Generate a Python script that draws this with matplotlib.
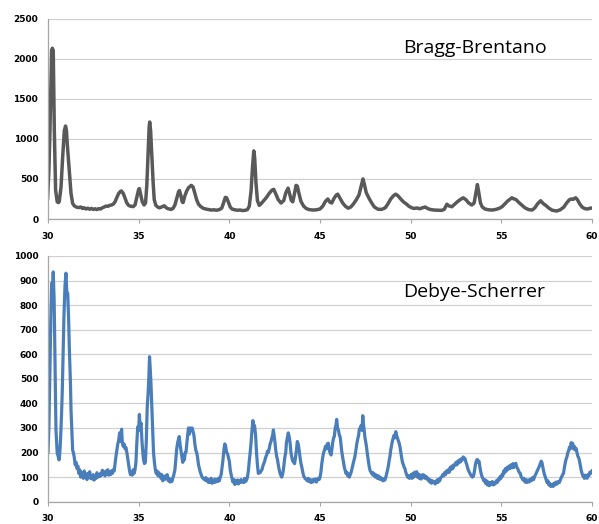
import matplotlib
matplotlib.use("Agg")
import matplotlib.pyplot as plt

# ---------------- data: Bragg-Brentano (top) ----------------
bb_two_theta = [29.98, 30.05, 30.11, 30.16, 30.2, 30.24, 30.29, 30.35, 30.42, 30.51, 30.57, 30.62, 30.72, 30.81,
    30.9, 30.97, 31.02, 31.06, 31.17, 31.27, 31.36, 31.45, 31.55, 31.7, 31.8, 31.9, 32.0, 32.1, 32.2,
    32.3, 32.4, 32.5, 32.6, 32.7, 32.8, 32.9, 33.0, 33.1, 33.2, 33.3, 33.4, 33.5, 33.6, 33.7, 33.8, 33.9, 34.0,
    34.05, 34.15, 34.25, 34.35, 34.45, 34.55, 34.7, 34.8, 34.9, 35.0, 35.04, 35.1, 35.2, 35.3, 35.38, 35.45,
    35.52, 35.58, 35.61, 35.66, 35.72, 35.8, 35.86, 35.95, 36.05, 36.15, 36.25, 36.35, 36.42, 36.5, 36.6, 36.7,
    36.8, 36.9, 37.0, 37.1, 37.2, 37.25, 37.32, 37.4, 37.45, 37.55, 37.65, 37.75, 37.9, 38.0, 38.1, 38.2, 38.3,
    38.4, 38.55, 38.7, 38.85, 39.0, 39.15, 39.3, 39.45, 39.58, 39.68, 39.78, 39.85, 39.95, 40.05, 40.15, 40.3,
    40.45, 40.6, 40.75, 40.9, 41.0, 41.1, 41.2, 41.28, 41.35, 41.4, 41.47, 41.55, 41.65, 41.75, 41.9, 42.05,
    42.2, 42.35, 42.45, 42.55, 42.7, 42.85, 43.0, 43.12, 43.24, 43.32, 43.42, 43.5, 43.58, 43.68, 43.75, 43.85,
    43.95, 44.1, 44.25, 44.4, 44.6, 44.8, 45.0, 45.15, 45.3, 45.43, 45.55, 45.65, 45.78, 45.9, 45.98, 46.1,
    46.25, 46.4, 46.55, 46.7, 46.85, 47.0, 47.15, 47.28, 47.37, 47.45, 47.55, 47.7, 47.85, 48.0, 48.2, 48.4,
    48.6, 48.75, 48.9, 49.05, 49.18, 49.3, 49.45, 49.6, 49.75, 49.9, 50.06, 50.2, 50.35, 50.5, 50.65, 50.8,
    50.95, 51.1, 51.3, 51.5, 51.7, 51.85, 52.0, 52.1, 52.27, 52.45, 52.6, 52.75, 52.9, 53.05, 53.2, 53.37,
    53.5, 53.6, 53.68, 53.75, 53.85, 53.95, 54.1, 54.3, 54.5, 54.7, 54.9, 55.05, 55.2, 55.35, 55.5, 55.58,
    55.7, 55.8, 55.95, 56.1, 56.3, 56.5, 56.7, 56.85, 57.0, 57.17, 57.3, 57.45, 57.6, 57.8, 58.05, 58.25,
    58.45, 58.6, 58.75, 58.85, 58.95, 59.1, 59.2, 59.32, 59.45, 59.6, 59.75, 59.9, 60.0]
bb_intensity = [260, 600, 1110, 1700, 2100, 2130, 2100, 1100, 360, 215, 205, 215, 400, 775,
    1100, 1160, 1100, 945, 610, 320, 195, 165, 150, 142, 150, 132, 140, 125, 135,
    122, 132, 120, 128, 118, 130, 125, 140, 150, 162, 158, 170, 175, 185, 215, 270, 320, 345,
    350, 320, 260, 200, 170, 160, 155, 175, 270, 370, 380, 320, 215, 175, 200, 420,
    800, 1150, 1210, 1100, 820, 450, 240, 170, 150, 140, 148, 160, 165, 145, 130, 125,
    120, 135, 175, 260, 340, 355, 300, 215, 205, 290, 350, 390, 420, 400, 320, 240, 185,
    160, 135, 125, 118, 112, 115, 110, 118, 135, 200, 270, 265, 210, 150, 125, 115,
    110, 112, 105, 110, 118, 160, 350, 650, 850, 760, 450, 230, 170, 190, 230, 270,
    320, 360, 370, 320, 240, 200, 230, 330, 385, 320, 230, 215, 300, 420, 410, 310,
    220, 160, 130, 118, 112, 115, 125, 160, 220, 250, 210, 200, 260, 300, 310, 260,
    200, 160, 135, 150, 190, 240, 300, 420, 500, 430, 330, 260, 200, 150, 122, 120,
    140, 190, 250, 290, 310, 290, 250, 215, 190, 160, 140, 132, 138, 128, 140, 150,
    130, 118, 112, 110, 108, 120, 185, 165, 153, 190, 220, 245, 265, 240, 200, 175,
    200, 330, 430, 340, 200, 150, 125, 115, 112, 120, 135, 155, 190, 225, 250, 265,
    250, 245, 210, 180, 140, 118, 112, 140, 190, 228, 195, 170, 140, 110, 100, 115,
    150, 200, 240, 250, 245, 265, 240, 190, 150, 130, 125, 135, 137]

# ---------------- data: Debye-Scherrer (bottom) ----------------
ds_two_theta = [30.0, 30.05, 30.11, 30.16, 30.2, 30.26, 30.29, 30.34, 30.39, 30.44, 30.51, 30.56, 30.61, 30.65,
    30.7, 30.75, 30.79, 30.84, 30.88, 30.94, 30.99, 31.04, 31.09, 31.14, 31.18, 31.24, 31.27, 31.36, 31.4, 31.45,
    31.5, 31.55, 31.6, 31.65, 31.7, 31.75, 31.8, 31.85, 31.9, 31.95, 32.0, 32.05, 32.1, 32.15, 32.2, 32.25, 32.3,
    32.35, 32.4, 32.45, 32.5, 32.55, 32.6, 32.65, 32.7, 32.75, 32.8, 32.85, 32.9, 32.95, 33.0, 33.05, 33.1, 33.15,
    33.2, 33.25, 33.3, 33.35, 33.4, 33.45, 33.5, 33.55, 33.6, 33.65, 33.7, 33.75, 33.8, 33.85, 33.9, 33.95, 34.0,
    34.06, 34.1, 34.15, 34.2, 34.25, 34.3, 34.35, 34.4, 34.45, 34.5, 34.55, 34.6, 34.65, 34.7, 34.75, 34.8, 34.85,
    34.9, 34.95, 35.0, 35.04, 35.08, 35.13, 35.18, 35.23, 35.27, 35.32, 35.37, 35.42, 35.47, 35.52, 35.56, 35.6,
    35.64, 35.68, 35.72, 35.77, 35.82, 35.87, 35.92, 35.97, 36.02, 36.07, 36.12, 36.18, 36.23, 36.28, 36.33, 36.38,
    36.43, 36.48, 36.53, 36.58, 36.63, 36.68, 36.73, 36.78, 36.83, 36.88, 36.94, 37.0, 37.05, 37.1, 37.15, 37.2,
    37.24, 37.29, 37.34, 37.39, 37.43, 37.48, 37.52, 37.57, 37.61, 37.66, 37.7, 37.75, 37.8, 37.85, 37.9, 37.95,
    38.0, 38.05, 38.1, 38.15, 38.2, 38.25, 38.3, 38.35, 38.4, 38.45, 38.5, 38.55, 38.6, 38.66, 38.7, 38.75, 38.8,
    38.85, 38.9, 38.95, 39.0, 39.05, 39.1, 39.15, 39.2, 39.25, 39.3, 39.35, 39.4, 39.45, 39.5, 39.55, 39.6, 39.65,
    39.7, 39.75, 39.8, 39.85, 39.9, 39.95, 40.0, 40.05, 40.1, 40.15, 40.2, 40.25, 40.3, 40.35, 40.4, 40.45, 40.5,
    40.55, 40.6, 40.65, 40.7, 40.75, 40.8, 40.85, 40.9, 40.96, 41.0, 41.05, 41.1, 41.15, 41.2, 41.25, 41.3, 41.34,
    41.39, 41.45, 41.5, 41.55, 41.6, 41.65, 41.7, 41.75, 41.8, 41.85, 41.9, 41.95, 42.0, 42.06, 42.1, 42.15, 42.2,
    42.25, 42.3, 42.35, 42.4, 42.43, 42.47, 42.52, 42.56, 42.61, 42.66, 42.7, 42.75, 42.8, 42.85, 42.89, 42.95,
    43.0, 43.05, 43.11, 43.15, 43.2, 43.25, 43.3, 43.35, 43.4, 43.44, 43.5, 43.55, 43.6, 43.65, 43.7, 43.75, 43.8,
    43.85, 43.9, 43.95, 44.0, 44.05, 44.1, 44.17, 44.25, 44.3, 44.35, 44.4, 44.45, 44.5, 44.55, 44.6, 44.65, 44.7,
    44.75, 44.8, 44.85, 44.9, 44.95, 45.0, 45.05, 45.1, 45.15, 45.2, 45.25, 45.3, 45.35, 45.4, 45.46, 45.5, 45.55,
    45.61, 45.66, 45.7, 45.75, 45.79, 45.84, 45.88, 45.92, 45.97, 46.02, 46.07, 46.11, 46.16, 46.2, 46.25, 46.3,
    46.34, 46.38, 46.43, 46.48, 46.53, 46.58, 46.62, 46.66, 46.72, 46.78, 46.83, 46.88, 46.93, 46.98, 47.03, 47.08,
    47.13, 47.17, 47.22, 47.27, 47.32, 47.36, 47.39, 47.44, 47.48, 47.53, 47.57, 47.62, 47.67, 47.72, 47.77, 47.82,
    47.87, 47.92, 47.97, 48.02, 48.07, 48.12, 48.17, 48.22, 48.27, 48.32, 48.37, 48.42, 48.47, 48.52, 48.58, 48.63,
    48.68, 48.73, 48.78, 48.82, 48.86, 48.9, 48.95, 49.0, 49.04, 49.08, 49.13, 49.18, 49.22, 49.27, 49.31, 49.36,
    49.41, 49.46, 49.5, 49.55, 49.6, 49.64, 49.68, 49.73, 49.78, 49.83, 49.88, 49.93, 49.97, 50.02, 50.07, 50.12,
    50.17, 50.22, 50.27, 50.33, 50.38, 50.43, 50.48, 50.53, 50.57, 50.61, 50.66, 50.7, 50.75, 50.8, 50.85, 50.89,
    50.95, 51.0, 51.05, 51.1, 51.15, 51.2, 51.25, 51.3, 51.35, 51.4, 51.45, 51.5, 51.55, 51.6, 51.66, 51.72, 51.77,
    51.82, 51.87, 51.92, 51.97, 52.02, 52.08, 52.13, 52.18, 52.23, 52.28, 52.33, 52.38, 52.45, 52.5, 52.55, 52.6,
    52.65, 52.7, 52.75, 52.8, 52.85, 52.9, 52.95, 53.0, 53.05, 53.1, 53.15, 53.2, 53.25, 53.3, 53.35, 53.4, 53.47,
    53.52, 53.57, 53.62, 53.67, 53.72, 53.77, 53.82, 53.87, 53.92, 53.98, 54.03, 54.08, 54.13, 54.18, 54.23, 54.29,
    54.34, 54.4, 54.45, 54.5, 54.55, 54.6, 54.66, 54.72, 54.78, 54.83, 54.88, 54.93, 54.98, 55.03, 55.08, 55.13,
    55.18, 55.23, 55.28, 55.33, 55.38, 55.43, 55.48, 55.54, 55.6, 55.65, 55.7, 55.75, 55.8, 55.85, 55.9, 55.95,
    56.0, 56.04, 56.1, 56.15, 56.2, 56.25, 56.3, 56.35, 56.41, 56.47, 56.53, 56.6, 56.66, 56.72, 56.78, 56.85,
    56.92, 56.98, 57.05, 57.1, 57.15, 57.2, 57.24, 57.28, 57.33, 57.38, 57.42, 57.47, 57.52, 57.57, 57.62, 57.67,
    57.72, 57.79, 57.85, 57.9, 57.96, 58.02, 58.08, 58.14, 58.2, 58.26, 58.32, 58.38, 58.43, 58.48, 58.53, 58.58,
    58.62, 58.67, 58.72, 58.76, 58.8, 58.85, 58.89, 58.93, 58.98, 59.03, 59.08, 59.12, 59.17, 59.22, 59.26, 59.3,
    59.35, 59.4, 59.45, 59.5, 59.54, 59.58, 59.63, 59.68, 59.73, 59.78, 59.83, 59.88, 59.93, 59.97, 60.0]
ds_intensity = [200, 300, 550, 760, 889, 880, 935, 820, 550, 292, 197, 185, 170, 195,
    265, 360, 455, 620, 753, 880, 930, 850, 848, 740, 617, 480, 373, 210, 200, 180,
    150, 160, 135, 145, 115, 130, 100, 120, 110, 95, 125, 100, 112, 90, 115, 98, 122,
    95, 105, 92, 110, 88, 100, 95, 118, 100, 110, 102, 115, 108, 128, 110, 120, 105,
    125, 112, 130, 108, 122, 110, 125, 115, 130, 125, 155, 185, 210, 235, 250, 280, 245,
    295, 240, 225, 235, 215, 220, 200, 175, 150, 125, 110, 120, 108, 130, 115, 130, 160,
    240, 305, 290, 355, 300, 320, 250, 200, 170, 155, 160, 240, 380, 440, 500, 590,
    540, 480, 400, 300, 200, 160, 130, 115, 125, 105, 118, 110, 95, 110, 85, 100,
    90, 105, 95, 110, 85, 95, 80, 90, 82, 95, 110, 130, 175, 215, 240, 255,
    265, 230, 205, 180, 160, 190, 170, 200, 200, 240, 270, 300, 275, 300, 290, 300,
    285, 270, 235, 210, 200, 180, 150, 135, 120, 110, 100, 95, 92, 88, 98, 85, 92,
    78, 88, 80, 95, 75, 85, 78, 92, 80, 88, 82, 95, 85, 100, 110, 140, 170,
    210, 235, 225, 200, 195, 180, 165, 130, 110, 95, 80, 90, 70, 85, 75, 88, 72,
    85, 78, 90, 80, 85, 78, 95, 82, 90, 100, 125, 165, 200, 240, 290, 330, 300,
    310, 270, 200, 150, 115, 120, 118, 125, 130, 145, 155, 165, 180, 190, 205, 200, 215,
    235, 245, 260, 275, 292, 270, 240, 210, 185, 170, 150, 130, 115, 105, 100, 115,
    140, 175, 200, 240, 260, 280, 265, 240, 200, 183, 165, 160, 155, 180, 210, 245, 235,
    210, 180, 155, 140, 120, 105, 95, 90, 85, 95, 82, 90, 78, 88, 80, 90, 85,
    92, 80, 88, 95, 90, 98, 120, 155, 180, 200, 210, 225, 215, 235, 238, 215, 200,
    190, 215, 240, 260, 265, 300, 310, 335, 300, 290, 270, 265, 230, 205, 180, 160,
    140, 130, 115, 120, 105, 112, 100, 108, 120, 140, 155, 170, 185, 210, 235, 255,
    270, 295, 300, 310, 290, 350, 320, 290, 260, 240, 220, 190, 165, 140, 125, 120,
    112, 118, 105, 112, 100, 108, 95, 105, 92, 100, 90, 95, 85, 92, 88, 100,
    115, 130, 150, 170, 185, 210, 230, 250, 258, 270, 260, 285, 270, 260, 250, 240,
    224, 200, 180, 160, 150, 140, 136, 120, 110, 100, 105, 95, 98, 110, 95, 115,
    100, 120, 105, 122, 100, 112, 95, 108, 92, 95, 110, 98, 108, 95, 102, 100,
    88, 92, 80, 88, 75, 85, 78, 82, 72, 80, 88, 78, 92, 85, 98, 102, 110,
    105, 118, 110, 125, 118, 130, 120, 140, 130, 145, 135, 150, 148, 160, 150, 165,
    158, 170, 162, 175, 170, 182, 178, 175, 160, 150, 135, 125, 118, 110, 105, 100, 105,
    125, 150, 165, 172, 160, 165, 140, 120, 105, 95, 85, 90, 75, 85, 68, 80,
    65, 78, 70, 82, 68, 78, 72, 85, 78, 92, 88, 102, 95, 110, 105, 125,
    118, 135, 125, 140, 132, 145, 135, 150, 138, 155, 140, 150, 156, 140, 135, 125,
    118, 116, 100, 95, 88, 95, 80, 90, 78, 88, 80, 92, 85, 98, 90, 105,
    115, 125, 136, 145, 155, 165, 160, 145, 125, 110, 102, 90, 78, 85, 68, 75,
    62, 70, 62, 75, 68, 80, 72, 82, 78, 90, 100, 110, 116, 140, 160, 175,
    183, 200, 210, 222, 215, 240, 230, 238, 215, 225, 210, 217, 200, 185, 180, 170,
    150, 130, 115, 105, 102, 95, 108, 100, 95, 110, 105, 120, 115, 122, 125]

x_ticks = [30, 35, 40, 45, 50, 55, 60]
bb_y_ticks = [0, 500, 1000, 1500, 2000, 2500]
ds_y_ticks = [0, 100, 200, 300, 400, 500, 600, 700, 800, 900, 1000]
bb_label = "Bragg-Brentano"
ds_label = "Debye-Scherrer"

fig = plt.figure(figsize=(5.99, 5.24), dpi=100)
ax1 = fig.add_axes([0.0801, 0.582, 0.9082, 0.3826])
ax2 = fig.add_axes([0.0801, 0.0426, 0.9082, 0.4689])

def style(ax, yticks):
    ax.set_xlim(30, 60)
    ax.set_ylim(yticks[0], yticks[-1])
    ax.set_xticks(x_ticks)
    ax.set_yticks(yticks)
    for s in ("top", "right"):
        ax.spines[s].set_visible(False)
    for s in ("left", "bottom"):
        ax.spines[s].set_color("#A6A6A6")
        ax.spines[s].set_linewidth(0.9)
    ax.grid(axis="y", color="#D0D0D0", linewidth=0.9)
    ax.set_axisbelow(True)
    ax.tick_params(axis="y", length=0, pad=7, labelsize=6.5)
    ax.tick_params(axis="x", length=3, width=0.8, color="#A6A6A6", pad=6, labelsize=6.5)
    for lab in ax.get_xticklabels() + ax.get_yticklabels():
        lab.set_fontweight("bold")
        lab.set_family("DejaVu Sans")

style(ax1, bb_y_ticks)
style(ax2, ds_y_ticks)

ax1.plot(bb_two_theta, bb_intensity, color="#595959", linewidth=2.5, solid_joinstyle="round")
ax2.plot(ds_two_theta, ds_intensity, color="#4A7EBB", linewidth=2.3, solid_joinstyle="round")

ax1.text(49.58, 2127, bb_label, fontsize=14, family="Open Sans", fontweight="medium",
         va="center", ha="left", color="black")
ax2.text(49.58, 853, ds_label, fontsize=14, family="Open Sans", fontweight="medium",
         va="center", ha="left", color="black")

fig.savefig("out.png", dpi=100)
